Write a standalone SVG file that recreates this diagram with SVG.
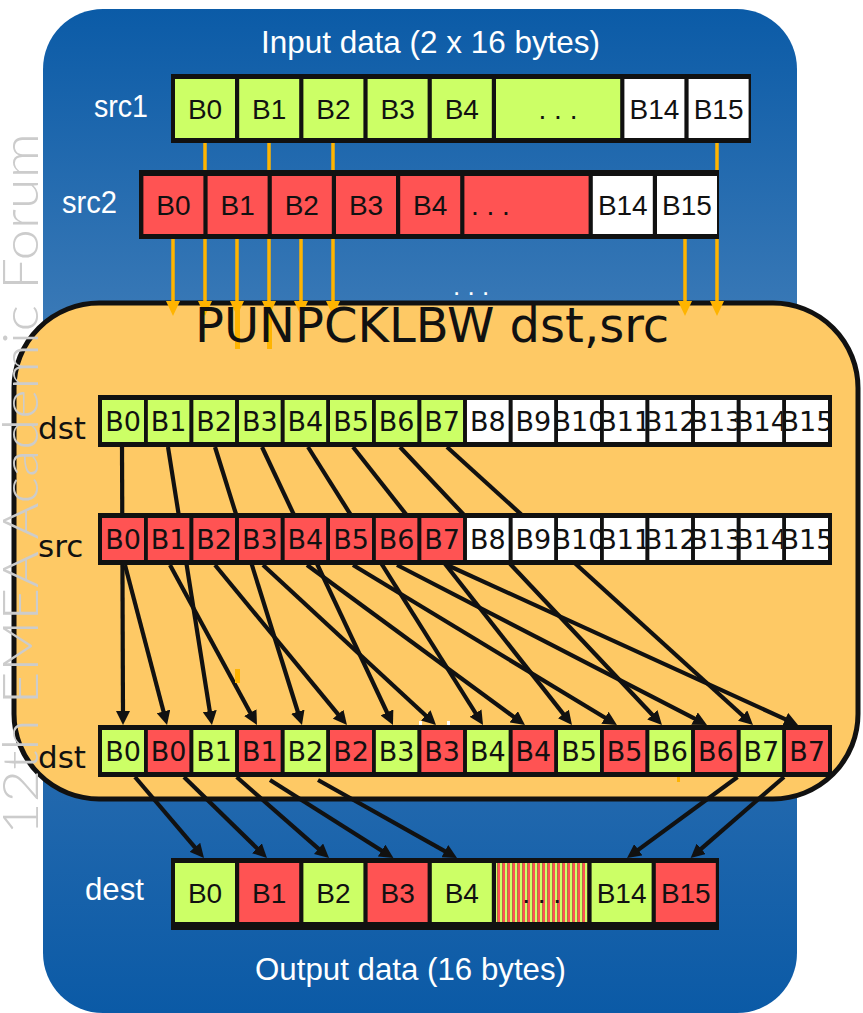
<svg xmlns="http://www.w3.org/2000/svg" width="863" height="1013" viewBox="0 0 863 1013">
<defs>
<linearGradient id="blueg" x1="0" y1="0" x2="0" y2="1">
<stop offset="0" stop-color="#0b5ba7"/>
<stop offset="0.3" stop-color="#3878b6"/>
<stop offset="0.62" stop-color="#3172b3"/>
<stop offset="1" stop-color="#0b5aa6"/>
</linearGradient>
<pattern id="stripes" patternUnits="userSpaceOnUse" x="0" y="0" width="5" height="10">
<rect width="2.5" height="10" fill="#CCFF66"/>
<rect x="2.5" width="2.5" height="10" fill="#FF5353"/>
</pattern>
<marker id="ab" markerUnits="userSpaceOnUse" viewBox="0 0 14 14" markerWidth="14" markerHeight="14" refX="4" refY="7" orient="auto">
<path d="M0,0 L14,7 L0,14 z" fill="#111"/>
</marker>
<marker id="ao" markerUnits="userSpaceOnUse" viewBox="0 0 15 14" markerWidth="15" markerHeight="14" refX="5" refY="7" orient="auto">
<path d="M0,0 L15,7 L0,14 z" fill="#FFB400"/>
</marker>
</defs>
<style>
.g{fill:#CCFF66}
.r{fill:#FF5353}
.w{fill:#FFFFFF}
.bk{fill:#111}
.t{font-family:"DejaVu Sans",sans-serif;font-size:27px;fill:#111;text-anchor:middle}
.tc{font-family:"Liberation Sans",Arial,sans-serif;font-size:28px;fill:#111;text-anchor:middle}
.wl{font-family:"Liberation Sans",Arial,sans-serif;font-size:32px;fill:#fff}
.bl{font-family:"DejaVu Sans",sans-serif;font-size:31px;fill:#111}
.oline{stroke:#FFB400;stroke-width:3.5;fill:none}
.kline{stroke:#111;stroke-width:4.2;fill:none;marker-end:url(#ab)}
</style>

<g id="outer-panel">
<rect x="43" y="9" width="754" height="1004" rx="60" ry="60" fill="url(#blueg)"/>
<text class="wl" x="261" y="53" textLength="339" lengthAdjust="spacingAndGlyphs">Input data (2 x 16 bytes)</text>
<text class="wl" x="255" y="980" textLength="311" lengthAdjust="spacingAndGlyphs">Output data (16 bytes)</text>
</g>

<g id="instruction-panel">
<rect x="14" y="303" width="844" height="496" rx="85" ry="85" fill="#FEC965" stroke="#111" stroke-width="5"/>
</g>

<g id="input-connectors">
<line class="oline" x1="205" y1="143" x2="205" y2="306" marker-end="url(#ao)"/>
<line class="oline" x1="269" y1="143" x2="269" y2="306" marker-end="url(#ao)"/>
<line class="oline" x1="333" y1="143" x2="333" y2="306" marker-end="url(#ao)"/>
<line class="oline" x1="717" y1="143" x2="717" y2="306" marker-end="url(#ao)"/>
<line class="oline" x1="173" y1="239" x2="173" y2="306" marker-end="url(#ao)"/>
<line class="oline" x1="237" y1="239" x2="237" y2="306" marker-end="url(#ao)"/>
<line class="oline" x1="301" y1="239" x2="301" y2="306" marker-end="url(#ao)"/>
<line class="oline" x1="685" y1="239" x2="685" y2="306" marker-end="url(#ao)"/>
<rect x="235" y="306" width="5" height="43" fill="#FFB400"/>
<rect x="267" y="306" width="5" height="43" fill="#FFB400"/>
<text x="453" y="295" font-family="Liberation Sans, Arial, sans-serif" font-size="26" fill="#fff">. . .</text>
</g>

<g id="src1">
<text class="wl" x="94" y="117" textLength="54" lengthAdjust="spacingAndGlyphs">src1</text>
<rect class="bk" x="171" y="74" width="580" height="69"/>
<rect class="g" x="175" y="79" width="60" height="59"/><text class="tc" x="205" y="119">B0</text>
<rect class="g" x="239.2" y="79" width="60" height="59"/><text class="tc" x="269.2" y="119">B1</text>
<rect class="g" x="303.4" y="79" width="60" height="59"/><text class="tc" x="333.4" y="119">B2</text>
<rect class="g" x="367.6" y="79" width="60" height="59"/><text class="tc" x="397.6" y="119">B3</text>
<rect class="g" x="431.8" y="79" width="60" height="59"/><text class="tc" x="461.8" y="119">B4</text>
<rect class="g" x="496" y="79" width="124.2" height="59"/><text class="tc" x="558" y="119">. . .</text>
<rect class="w" x="624.4" y="79" width="60" height="59"/><text class="tc" x="654.4" y="119">B14</text>
<rect class="w" x="688.6" y="79" width="60" height="59"/><text class="tc" x="718.6" y="119">B15</text>
</g>

<g id="src2">
<text class="wl" x="62" y="213" textLength="55" lengthAdjust="spacingAndGlyphs">src2</text>
<rect class="bk" x="139" y="170" width="580" height="69"/>
<rect class="r" x="143.4" y="176" width="60" height="58"/><text class="tc" x="173.4" y="215">B0</text>
<rect class="r" x="207.6" y="176" width="60" height="58"/><text class="tc" x="237.6" y="215">B1</text>
<rect class="r" x="271.8" y="176" width="60" height="58"/><text class="tc" x="301.8" y="215">B2</text>
<rect class="r" x="336" y="176" width="60" height="58"/><text class="tc" x="366" y="215">B3</text>
<rect class="r" x="400.2" y="176" width="60" height="58"/><text class="tc" x="430.2" y="215">B4</text>
<rect class="r" x="464.4" y="176" width="124.2" height="58"/><text class="tc" x="471" y="215" style="text-anchor:start">. . .</text>
<rect class="w" x="592.8" y="176" width="60" height="58"/><text class="tc" x="622.8" y="215">B14</text>
<rect class="w" x="657" y="176" width="60" height="58"/><text class="tc" x="687" y="215">B15</text>
</g>

<g id="title">
<text x="195" y="342" font-family="DejaVu Sans, sans-serif" font-size="48" fill="#111">PUNPCKLBW dst,src</text>
</g>

<g id="unpack-connectors">
<line class="kline" x1="122" y1="447" x2="123" y2="715"/>
<line class="kline" x1="168" y1="447" x2="210.4" y2="715.1"/>
<line class="kline" x1="215" y1="447" x2="299" y2="715.5"/>
<line class="kline" x1="262" y1="447" x2="388.7" y2="716"/>
<line class="kline" x1="308" y1="447" x2="477.7" y2="716.5"/>
<line class="kline" x1="353" y1="447" x2="565.8" y2="717.1"/>
<line class="kline" x1="400" y1="447" x2="655.1" y2="717.7"/>
<line class="kline" x1="447" y1="447" x2="745.6" y2="718.3"/>
<line class="kline" x1="125" y1="565" x2="164.5" y2="715.3"/>
<line class="kline" x1="170" y1="565" x2="252.2" y2="716.2"/>
<line class="kline" x1="215" y1="565" x2="340.6" y2="717.3"/>
<line class="kline" x1="263" y1="565" x2="428.7" y2="718.2"/>
<line class="kline" x1="307" y1="565" x2="516.9" y2="719.1"/>
<line class="kline" x1="353" y1="565" x2="608.4" y2="719.8"/>
<line class="kline" x1="397" y1="565" x2="698.1" y2="720.4"/>
<line class="kline" x1="447" y1="565" x2="788.9" y2="720.9"/>
<rect x="235" y="669" width="5" height="14" fill="#FFB400"/>
<rect x="419" y="721" width="3" height="6" fill="#fff"/>
<rect x="447" y="721" width="3" height="6" fill="#fff"/>
</g>

<g id="dst-row">
<text class="bl" x="38" y="439">dst</text>
<rect class="bk" x="98" y="395" width="734" height="52"/>
<svg x="102" y="400" width="42" height="42"><rect class="g" width="42" height="42"/><text class="t" x="21" y="31">B0</text></svg>
<svg x="147.6" y="400" width="42" height="42"><rect class="g" width="42" height="42"/><text class="t" x="21" y="31">B1</text></svg>
<svg x="193.2" y="400" width="42" height="42"><rect class="g" width="42" height="42"/><text class="t" x="21" y="31">B2</text></svg>
<svg x="238.8" y="400" width="42" height="42"><rect class="g" width="42" height="42"/><text class="t" x="21" y="31">B3</text></svg>
<svg x="284.4" y="400" width="42" height="42"><rect class="g" width="42" height="42"/><text class="t" x="21" y="31">B4</text></svg>
<svg x="330" y="400" width="42" height="42"><rect class="g" width="42" height="42"/><text class="t" x="21" y="31">B5</text></svg>
<svg x="375.6" y="400" width="42" height="42"><rect class="g" width="42" height="42"/><text class="t" x="21" y="31">B6</text></svg>
<svg x="421.2" y="400" width="42" height="42"><rect class="g" width="42" height="42"/><text class="t" x="21" y="31">B7</text></svg>
<svg x="466.8" y="400" width="42" height="42"><rect class="w" width="42" height="42"/><text class="t" x="21" y="31">B8</text></svg>
<svg x="512.4" y="400" width="42" height="42"><rect class="w" width="42" height="42"/><text class="t" x="21" y="31">B9</text></svg>
<svg x="558" y="400" width="42" height="42"><rect class="w" width="42" height="42"/><text class="t" x="21" y="31">B10</text></svg>
<svg x="603.6" y="400" width="42" height="42"><rect class="w" width="42" height="42"/><text class="t" x="21" y="31">B11</text></svg>
<svg x="649.2" y="400" width="42" height="42"><rect class="w" width="42" height="42"/><text class="t" x="21" y="31">B12</text></svg>
<svg x="694.8" y="400" width="42" height="42"><rect class="w" width="42" height="42"/><text class="t" x="21" y="31">B13</text></svg>
<svg x="740.4" y="400" width="42" height="42"><rect class="w" width="42" height="42"/><text class="t" x="21" y="31">B14</text></svg>
<svg x="786" y="400" width="42" height="42"><rect class="w" width="42" height="42"/><text class="t" x="21" y="31">B15</text></svg>
</g>

<g id="src-row">
<text class="bl" x="38" y="557">src</text>
<rect class="bk" x="98" y="513" width="734" height="52"/>
<svg x="102" y="518" width="42" height="42"><rect class="r" width="42" height="42"/><text class="t" x="21" y="31">B0</text></svg>
<svg x="147.6" y="518" width="42" height="42"><rect class="r" width="42" height="42"/><text class="t" x="21" y="31">B1</text></svg>
<svg x="193.2" y="518" width="42" height="42"><rect class="r" width="42" height="42"/><text class="t" x="21" y="31">B2</text></svg>
<svg x="238.8" y="518" width="42" height="42"><rect class="r" width="42" height="42"/><text class="t" x="21" y="31">B3</text></svg>
<svg x="284.4" y="518" width="42" height="42"><rect class="r" width="42" height="42"/><text class="t" x="21" y="31">B4</text></svg>
<svg x="330" y="518" width="42" height="42"><rect class="r" width="42" height="42"/><text class="t" x="21" y="31">B5</text></svg>
<svg x="375.6" y="518" width="42" height="42"><rect class="r" width="42" height="42"/><text class="t" x="21" y="31">B6</text></svg>
<svg x="421.2" y="518" width="42" height="42"><rect class="r" width="42" height="42"/><text class="t" x="21" y="31">B7</text></svg>
<svg x="466.8" y="518" width="42" height="42"><rect class="w" width="42" height="42"/><text class="t" x="21" y="31">B8</text></svg>
<svg x="512.4" y="518" width="42" height="42"><rect class="w" width="42" height="42"/><text class="t" x="21" y="31">B9</text></svg>
<svg x="558" y="518" width="42" height="42"><rect class="w" width="42" height="42"/><text class="t" x="21" y="31">B10</text></svg>
<svg x="603.6" y="518" width="42" height="42"><rect class="w" width="42" height="42"/><text class="t" x="21" y="31">B11</text></svg>
<svg x="649.2" y="518" width="42" height="42"><rect class="w" width="42" height="42"/><text class="t" x="21" y="31">B12</text></svg>
<svg x="694.8" y="518" width="42" height="42"><rect class="w" width="42" height="42"/><text class="t" x="21" y="31">B13</text></svg>
<svg x="740.4" y="518" width="42" height="42"><rect class="w" width="42" height="42"/><text class="t" x="21" y="31">B14</text></svg>
<svg x="786" y="518" width="42" height="42"><rect class="w" width="42" height="42"/><text class="t" x="21" y="31">B15</text></svg>
</g>

<g id="output-connectors">
<line class="kline" x1="135" y1="777" x2="197.5" y2="850.4"/>
<line class="kline" x1="184" y1="777" x2="259.8" y2="851"/>
<line class="kline" x1="236.7" y1="777" x2="321.5" y2="851.4"/>
<line class="kline" x1="270" y1="780" x2="385" y2="852.7"/>
<line class="kline" x1="318" y1="780" x2="448.3" y2="853.1"/>
<line class="kline" x1="737.5" y1="777" x2="635.1" y2="852.1"/>
<line class="kline" x1="784" y1="777" x2="698.2" y2="851.4"/>
<rect x="677" y="776" width="3" height="6" fill="#FFB400"/>
</g>

<g id="dst-result-row">
<text class="bl" x="38" y="768">dst</text>
<rect class="bk" x="98" y="725" width="734" height="52"/>
<svg x="102" y="730" width="42" height="42"><rect class="g" width="42" height="42"/><text class="t" x="21" y="31">B0</text></svg>
<svg x="147.6" y="730" width="42" height="42"><rect class="r" width="42" height="42"/><text class="t" x="21" y="31">B0</text></svg>
<svg x="193.2" y="730" width="42" height="42"><rect class="g" width="42" height="42"/><text class="t" x="21" y="31">B1</text></svg>
<svg x="238.8" y="730" width="42" height="42"><rect class="r" width="42" height="42"/><text class="t" x="21" y="31">B1</text></svg>
<svg x="284.4" y="730" width="42" height="42"><rect class="g" width="42" height="42"/><text class="t" x="21" y="31">B2</text></svg>
<svg x="330" y="730" width="42" height="42"><rect class="r" width="42" height="42"/><text class="t" x="21" y="31">B2</text></svg>
<svg x="375.6" y="730" width="42" height="42"><rect class="g" width="42" height="42"/><text class="t" x="21" y="31">B3</text></svg>
<svg x="421.2" y="730" width="42" height="42"><rect class="r" width="42" height="42"/><text class="t" x="21" y="31">B3</text></svg>
<svg x="466.8" y="730" width="42" height="42"><rect class="g" width="42" height="42"/><text class="t" x="21" y="31">B4</text></svg>
<svg x="512.4" y="730" width="42" height="42"><rect class="r" width="42" height="42"/><text class="t" x="21" y="31">B4</text></svg>
<svg x="558" y="730" width="42" height="42"><rect class="g" width="42" height="42"/><text class="t" x="21" y="31">B5</text></svg>
<svg x="603.6" y="730" width="42" height="42"><rect class="r" width="42" height="42"/><text class="t" x="21" y="31">B5</text></svg>
<svg x="649.2" y="730" width="42" height="42"><rect class="g" width="42" height="42"/><text class="t" x="21" y="31">B6</text></svg>
<svg x="694.8" y="730" width="42" height="42"><rect class="r" width="42" height="42"/><text class="t" x="21" y="31">B6</text></svg>
<svg x="740.4" y="730" width="42" height="42"><rect class="g" width="42" height="42"/><text class="t" x="21" y="31">B7</text></svg>
<svg x="786" y="730" width="42" height="42"><rect class="r" width="42" height="42"/><text class="t" x="21" y="31">B7</text></svg>
</g>

<g id="dest">
<text class="wl" x="85" y="900" textLength="59" lengthAdjust="spacingAndGlyphs">dest</text>
<rect class="bk" x="171" y="858" width="548" height="72"/>
<rect class="g" x="175" y="863" width="60" height="59"/><text class="tc" x="205" y="903">B0</text>
<rect class="r" x="239.2" y="863" width="60" height="59"/><text class="tc" x="269.2" y="903">B1</text>
<rect class="g" x="303.4" y="863" width="60" height="59"/><text class="tc" x="333.4" y="903">B2</text>
<rect class="r" x="367.6" y="863" width="60" height="59"/><text class="tc" x="397.6" y="903">B3</text>
<rect class="g" x="431.8" y="863" width="60" height="59"/><text class="tc" x="461.8" y="903">B4</text>
<rect x="496" y="863" width="91.4" height="59" fill="url(#stripes)"/><text class="tc" x="541.7" y="903">. . .</text>
<rect class="g" x="591.6" y="863" width="60" height="59"/><text class="tc" x="621.6" y="903">B14</text>
<rect class="r" x="655.8" y="863" width="60" height="59"/><text class="tc" x="685.8" y="903">B15</text>
</g>

<g id="watermark">
<text transform="translate(38,835) rotate(-90)" font-family="Lato, Roboto, sans-serif" font-weight="300" font-size="50" fill="#cccccc" textLength="702" lengthAdjust="spacingAndGlyphs">12th EMEA Academic Forum</text>
</g>
</svg>
